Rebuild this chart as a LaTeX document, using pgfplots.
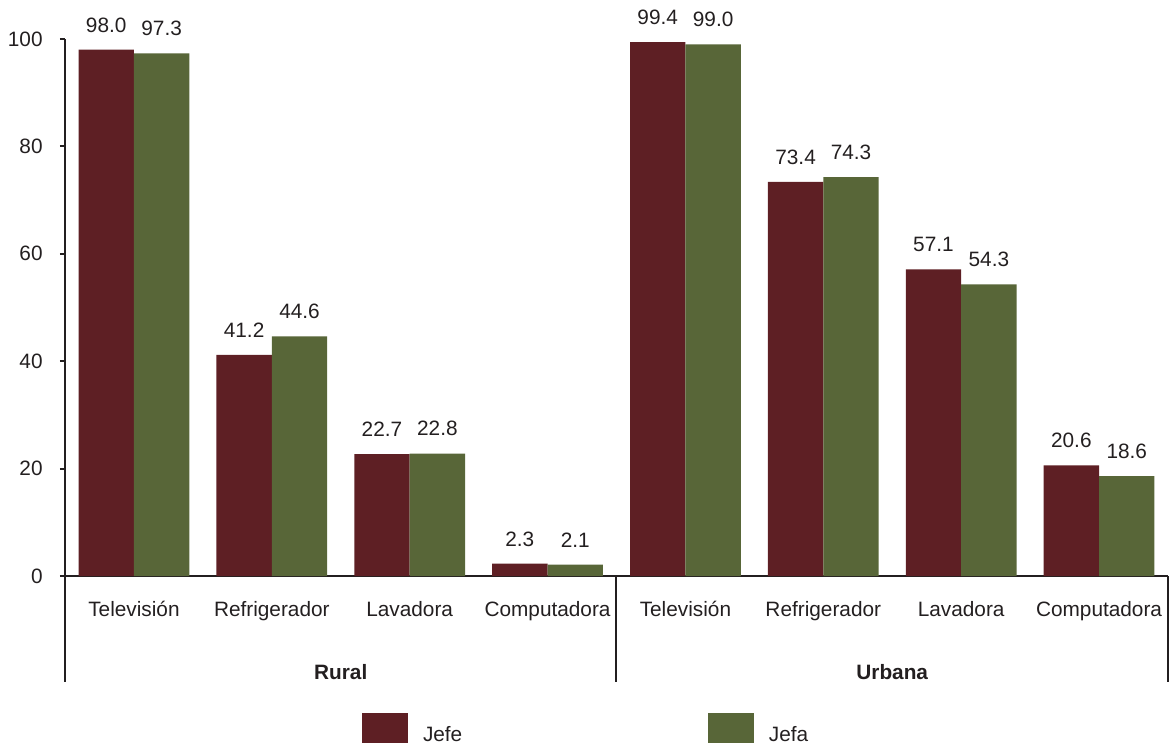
\documentclass[border=0pt]{standalone}
\usepackage{fontspec}
\setmainfont{Liberation Sans}
\usepackage{pgfplots}
\pgfplotsset{compat=1.18}
\definecolor{jefe}{HTML}{5E1F24}
\definecolor{jefa}{HTML}{586638}
\definecolor{ink}{HTML}{231F20}
\begin{document}
\fontsize{10.4}{12.5}\selectfont
\begin{tikzpicture}
\path[use as bounding box] (0,0) rectangle (584.5pt,372.5pt);
\begin{axis}[
 at={(32.5pt,84.5pt)}, anchor=south west,
 scale only axis, width=551.5pt, height=268.5pt,
 xmin=-0.5, xmax=7.5, ymin=0, ymax=100,
 axis lines*=left,
 axis line style={ink, line width=1.3pt},
 clip=false,
 ybar=0pt, bar width=27.7pt,
 ytick={0,20,40,60,80,100},
 xtick={0,...,7},
 xticklabels={Televisión,Refrigerador,Lavadora,Computadora,Televisión,Refrigerador,Lavadora,Computadora},
 x tick style={draw=none},
 y tick style={ink, line width=1pt},
 tick align=outside, major tick length=2.5pt,
 /pgf/number format/assume math mode=true,
 xticklabel style={anchor=base, yshift=-17.5pt, inner sep=0pt, text=ink},
 yticklabel style={anchor=east, inner sep=0pt, xshift=-8.5pt, text=ink},
 nodes near coords,
 every node near coord/.append style={anchor=south, inner sep=0pt, yshift=8.5pt, text=ink,
   /pgf/number format/fixed, /pgf/number format/fixed zerofill, /pgf/number format/precision=1},
 legend columns=2,
 legend style={at={(0.26927,-0.31471)}, anchor=south west, draw=none, fill=none,
   inner sep=0pt, outer sep=0pt, nodes={inner sep=0pt, text=ink},
   /tikz/every odd column/.append style={column sep=7.5pt},
   /tikz/every even column/.append style={column sep=122.8pt}},
 legend image code/.code={\fill[#1,draw=none] (0pt,-3.3pt) rectangle (23pt,11.7pt);},
]
\addplot[fill=jefe, draw=none] coordinates {(0,98.0) (1,41.2) (2,22.7) (3,2.3) (4,99.4) (5,73.4) (6,57.1) (7,20.6)};
\addplot[fill=jefa, draw=none] coordinates {(0,97.3) (1,44.6) (2,22.8) (3,2.1) (4,99.0) (5,74.3) (6,54.3) (7,18.6)};
\legend{Jefe,Jefa}
\draw[ink, line width=1pt] (axis cs:-0.5,0) -- ++(0pt,-53pt);
\draw[ink, line width=1pt] (axis cs:3.5,0) -- ++(0pt,-53pt);
\draw[ink, line width=1pt] (axis cs:7.5,0) -- ++(0pt,-53pt);
\node[font=\bfseries, anchor=base, text=ink, inner sep=0pt] at ([yshift=-51.5pt]axis cs:1.5,0) {Rural};
\node[font=\bfseries, anchor=base, text=ink, inner sep=0pt] at ([yshift=-51.5pt]axis cs:5.5,0) {Urbana};
\end{axis}
\end{tikzpicture}
\end{document}
